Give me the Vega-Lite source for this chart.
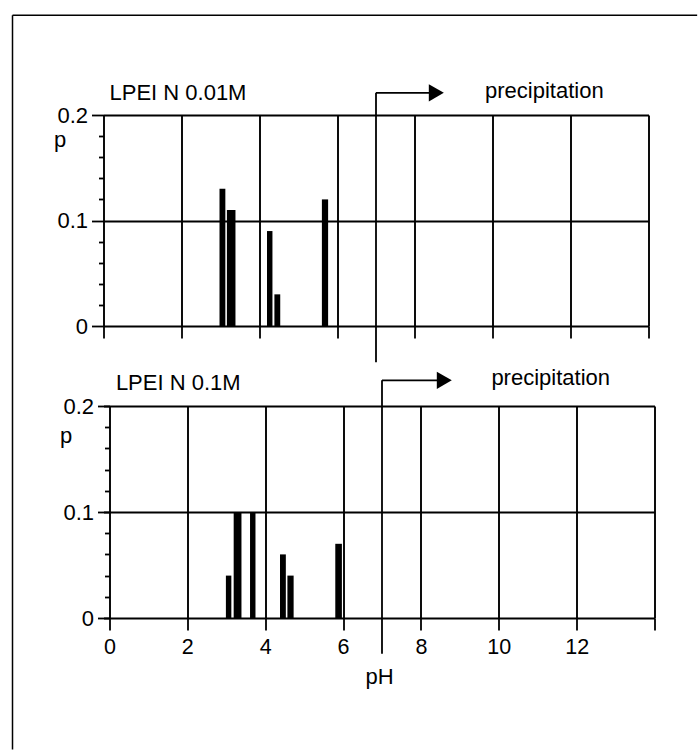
{
  "$schema": "https://vega.github.io/schema/vega-lite/v6.json",
  "background": "white",
  "padding": {"left": 11.5, "top": 14, "right": 0, "bottom": 0},
  "bounds": "flush",
  "spacing": 80,
  "config": {
    "view": {"stroke": null},
    "font": "Liberation Sans",
    "axis": {
      "domain": false,
      "gridColor": "black",
      "gridWidth": 1.9,
      "tickColor": "black",
      "tickWidth": 1.8,
      "labelColor": "black",
      "labelFont": "Liberation Sans",
      "titleFont": "Liberation Sans",
      "titleColor": "black",
      "titleFontWeight": "normal",
      "labelFontSize": 22,
      "titleFontSize": 22
    }
  },
  "datasets": {
    "lpei_001M": [
      {"ph_lo": 2.98, "ph_hi": 3.13, "p": 0.13},
      {"ph_lo": 3.17, "ph_hi": 3.39, "p": 0.11},
      {"ph_lo": 4.20, "ph_hi": 4.34, "p": 0.09},
      {"ph_lo": 4.39, "ph_hi": 4.54, "p": 0.03},
      {"ph_lo": 5.61, "ph_hi": 5.77, "p": 0.12}
    ],
    "lpei_01M": [
      {"ph_lo": 2.99, "ph_hi": 3.13, "p": 0.04},
      {"ph_lo": 3.19, "ph_hi": 3.39, "p": 0.10},
      {"ph_lo": 3.61, "ph_hi": 3.75, "p": 0.10},
      {"ph_lo": 4.38, "ph_hi": 4.53, "p": 0.06},
      {"ph_lo": 4.57, "ph_hi": 4.73, "p": 0.04},
      {"ph_lo": 5.80, "ph_hi": 5.97, "p": 0.07}
    ]
  },
  "vconcat": [
    {
      "width": 545,
      "height": 211,
      "layer": [
        {
          "data": {"name": "lpei_001M"},
          "mark": {"type": "bar", "color": "black"},
          "encoding": {
            "x": {"field": "ph_lo", "type": "quantitative", "scale": {"domain": [0, 14], "nice": false, "zero": false},
              "axis": {"values": [0, 2, 4, 6, 8, 10, 12, 14], "tickCount": 8, "grid": true, "tickSize": 12, "labels": false, "title": null}},
            "x2": {"field": "ph_hi"},
            "y": {"field": "p", "type": "quantitative", "scale": {"domain": [0, 0.2], "nice": false},
              "axis": {
                "values": [0, 0.02, 0.04, 0.06, 0.08, 0.1, 0.12, 0.14, 0.16, 0.18, 0.2],
                "tickCount": 11,
                "format": "~g",
                "grid": true,
                "gridOpacity": {"condition": {"test": "abs(datum.value*10 - round(datum.value*10)) < 0.001", "value": 1}, "value": 0},
                "tickSize": {"condition": {"test": "abs(datum.value*10 - round(datum.value*10)) < 0.001", "value": 12}, "value": 5},
                "labelExpr": "abs(datum.value*10 - round(datum.value*10)) < 0.001 ? datum.label : ''",
                "labelOverlap": false,
                "labelPadding": 4,
                "title": "p",
                "titleAngle": 0,
                "titleAlign": "left",
                "titleBaseline": "alphabetic",
                "titleX": -50,
                "titleY": 31
              }},
            "y2": {"datum": 0}
          }
        },
        {
          "data": {"values": [{}]},
          "mark": {"type": "rule", "color": "black", "strokeWidth": 1.5},
          "encoding": {"x": {"datum": -2.3375}, "x2": {"datum": 15.25}, "y": {"datum": 0.2946}}
        },
        {
          "data": {"values": [{}]},
          "mark": {"type": "rule", "color": "black", "strokeWidth": 1.5},
          "encoding": {"x": {"datum": -2.3375}, "y": {"datum": 0.2946}, "y2": {"datum": -0.4014}}
        },
        {
          "data": {"values": [{}]},
          "mark": {"type": "text", "align": "left", "baseline": "alphabetic", "fontSize": 22, "font": "Liberation Sans", "color": "black"},
          "encoding": {"x": {"datum": 0.154}, "y": {"datum": 0.2144}, "text": {"value": "LPEI N 0.01M"}}
        },
        {
          "data": {"values": [{}]},
          "mark": {"type": "rule", "color": "black", "strokeWidth": 1.8},
          "encoding": {"x": {"datum": 7}, "y": {"datum": 0.221}, "y2": {"datum": -0.0343}}
        },
        {
          "data": {"values": [{}]},
          "mark": {"type": "rule", "color": "black", "strokeWidth": 1.8},
          "encoding": {"x": {"datum": 7}, "x2": {"datum": 8.55}, "y": {"datum": 0.221}}
        },
        {
          "data": {"values": [{}]},
          "mark": {"type": "point", "shape": "triangle-right", "filled": true, "color": "black", "opacity": 1, "size": 300},
          "encoding": {"x": {"datum": 8.55}, "y": {"datum": 0.221}}
        },
        {
          "data": {"values": [{}]},
          "mark": {"type": "text", "align": "left", "baseline": "alphabetic", "fontSize": 22, "font": "Liberation Sans", "color": "black"},
          "encoding": {"x": {"datum": 9.8}, "y": {"datum": 0.2163}, "text": {"value": "precipitation"}}
        }
      ]
    },
    {
      "width": 551,
      "height": 212,
      "layer": [
        {
          "data": {"name": "lpei_01M"},
          "mark": {"type": "bar", "color": "black"},
          "encoding": {
            "x": {"field": "ph_lo", "type": "quantitative", "scale": {"domain": [-0.154, 14], "nice": false, "zero": false},
              "axis": {"values": [0, 2, 4, 6, 8, 10, 12, 14], "tickCount": 8, "grid": true, "tickSize": 12,
                "labelExpr": "datum.value == 14 ? '' : datum.label", "labelFontSize": 21.5, "labelPadding": 6, "labelOverlap": false, "labelFlush": false,
                "title": "pH", "titleY": 65.5, "titleBaseline": "alphabetic"}},
            "x2": {"field": "ph_hi"},
            "y": {"field": "p", "type": "quantitative", "scale": {"domain": [0, 0.2], "nice": false},
              "axis": {
                "offset": -6,
                "values": [0, 0.02, 0.04, 0.06, 0.08, 0.1, 0.12, 0.14, 0.16, 0.18, 0.2],
                "tickCount": 11,
                "format": "~g",
                "grid": true,
                "gridOpacity": {"condition": {"test": "abs(datum.value*10 - round(datum.value*10)) < 0.001", "value": 1}, "value": 0},
                "tickSize": {"condition": {"test": "abs(datum.value*10 - round(datum.value*10)) < 0.001", "value": 12}, "value": 5},
                "labelExpr": "abs(datum.value*10 - round(datum.value*10)) < 0.001 ? datum.label : ''",
                "labelOverlap": false,
                "labelPadding": 4,
                "title": "p",
                "titleAngle": 0,
                "titleAlign": "left",
                "titleBaseline": "alphabetic",
                "titleX": -50,
                "titleY": 36
              }},
            "y2": {"datum": 0}
          }
        },
        {
          "data": {"values": [{}]},
          "mark": {"type": "text", "align": "left", "baseline": "alphabetic", "fontSize": 22, "font": "Liberation Sans", "color": "black"},
          "encoding": {"x": {"datum": 0.164}, "y": {"datum": 0.2148}, "text": {"value": "LPEI N 0.1M"}}
        },
        {
          "data": {"values": [{}]},
          "mark": {"type": "rule", "color": "black", "strokeWidth": 1.8},
          "encoding": {"x": {"datum": 7}, "y": {"datum": 0.2242}, "y2": {"datum": -0.0338}}
        },
        {
          "data": {"values": [{}]},
          "mark": {"type": "rule", "color": "black", "strokeWidth": 1.8},
          "encoding": {"x": {"datum": 7}, "x2": {"datum": 8.6}, "y": {"datum": 0.2242}}
        },
        {
          "data": {"values": [{}]},
          "mark": {"type": "point", "shape": "triangle-right", "filled": true, "color": "black", "opacity": 1, "size": 300},
          "encoding": {"x": {"datum": 8.6}, "y": {"datum": 0.2242}}
        },
        {
          "data": {"values": [{}]},
          "mark": {"type": "text", "align": "left", "baseline": "alphabetic", "fontSize": 22, "font": "Liberation Sans", "color": "black"},
          "encoding": {"x": {"datum": 9.81}, "y": {"datum": 0.2195}, "text": {"value": "precipitation"}}
        }
      ]
    }
  ]
}
